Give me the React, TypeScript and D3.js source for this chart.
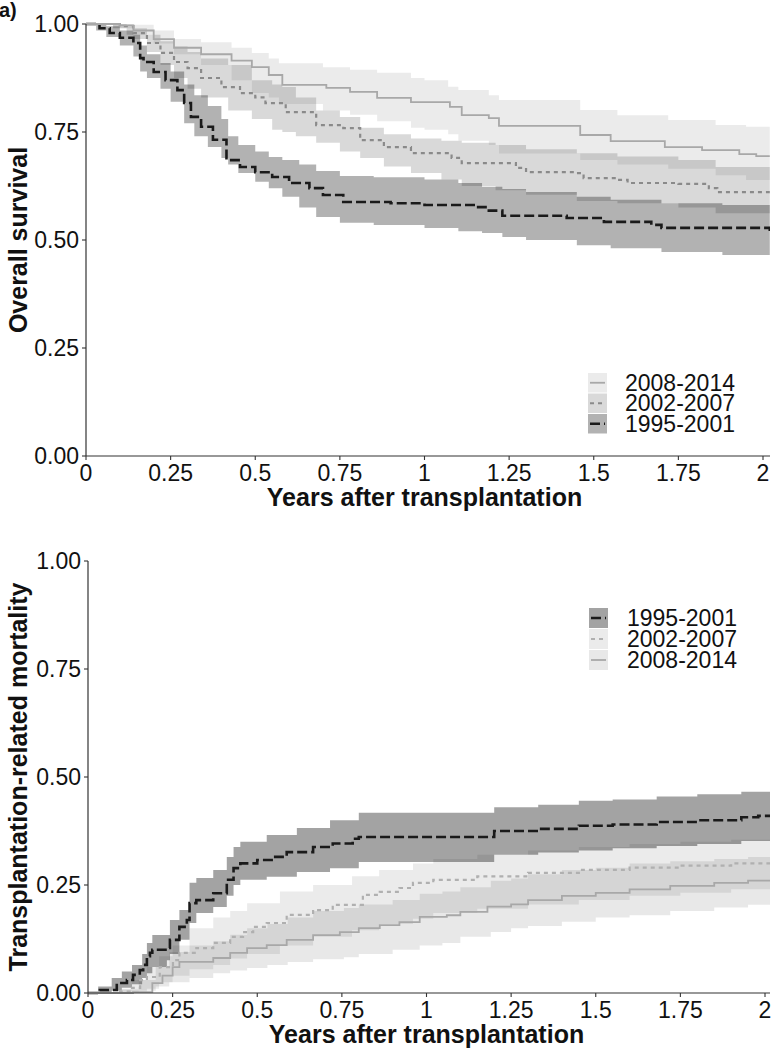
import React from "react";
import * as d3 from "d3";

type P2 = [number, number];
type P3 = [number, number, number];

// ---------- Panel a: overall survival ----------
const osEst1995: P2[] = [[0,1],[0.04,0.99],[0.07,0.979],[0.10,0.968],[0.14,0.956],[0.16,0.921],[0.17,0.912],[0.20,0.889],[0.235,0.87],[0.27,0.847],[0.29,0.817],[0.31,0.785],[0.34,0.762],[0.375,0.732],[0.415,0.685],[0.455,0.669],[0.50,0.657],[0.55,0.646],[0.60,0.632],[0.66,0.62],[0.70,0.604],[0.76,0.588],[0.90,0.585],[1.00,0.581],[1.15,0.576],[1.19,0.568],[1.23,0.556],[1.42,0.551],[1.53,0.542],[1.67,0.535],[1.70,0.528],[2.02,0.521]];
const osBand1995: P3[] = [[0,1,1],[0.03,0.985,1],[0.06,0.97,0.995],[0.10,0.95,0.985],[0.14,0.925,0.975],[0.16,0.89,0.95],[0.18,0.875,0.93],[0.22,0.85,0.91],[0.25,0.82,0.89],[0.29,0.77,0.86],[0.32,0.74,0.835],[0.36,0.715,0.81],[0.40,0.69,0.78],[0.42,0.675,0.74],[0.45,0.655,0.72],[0.50,0.635,0.705],[0.54,0.62,0.692],[0.58,0.60,0.685],[0.63,0.575,0.675],[0.68,0.553,0.66],[0.75,0.54,0.648],[0.85,0.535,0.645],[1.00,0.528,0.64],[1.10,0.52,0.632],[1.17,0.516,0.623],[1.23,0.507,0.618],[1.30,0.50,0.611],[1.45,0.488,0.60],[1.55,0.481,0.593],[1.70,0.472,0.585],[1.88,0.465,0.581],[2.02,0.465,0.581]];
const osEst2002: P2[] = [[0,1],[0.10,0.995],[0.14,0.979],[0.18,0.956],[0.22,0.933],[0.26,0.912],[0.30,0.898],[0.34,0.875],[0.40,0.854],[0.455,0.84],[0.50,0.83],[0.53,0.817],[0.59,0.796],[0.68,0.766],[0.76,0.759],[0.81,0.731],[0.88,0.715],[0.96,0.701],[1.08,0.69],[1.11,0.678],[1.27,0.667],[1.30,0.657],[1.45,0.655],[1.47,0.643],[1.57,0.639],[1.60,0.632],[1.75,0.63],[1.84,0.62],[1.865,0.611],[2.02,0.611]];
const osBand2002: P3[] = [[0,1,1],[0.08,0.99,1],[0.12,0.975,0.995],[0.14,0.965,0.99],[0.18,0.935,0.975],[0.22,0.905,0.96],[0.26,0.875,0.948],[0.30,0.85,0.935],[0.34,0.83,0.92],[0.42,0.80,0.905],[0.49,0.78,0.87],[0.55,0.755,0.86],[0.58,0.75,0.854],[0.62,0.74,0.83],[0.68,0.725,0.80],[0.75,0.705,0.785],[0.81,0.69,0.76],[0.88,0.67,0.745],[0.96,0.655,0.735],[1.05,0.64,0.73],[1.11,0.625,0.725],[1.21,0.615,0.72],[1.30,0.605,0.71],[1.45,0.59,0.701],[1.57,0.585,0.693],[1.75,0.575,0.685],[1.86,0.562,0.669],[2.02,0.562,0.669]];
const osEst2008: P2[] = [[0,1],[0.10,0.997],[0.14,0.985],[0.20,0.965],[0.26,0.945],[0.34,0.93],[0.43,0.915],[0.49,0.90],[0.54,0.882],[0.58,0.859],[0.71,0.852],[0.78,0.843],[0.86,0.829],[0.96,0.819],[1.075,0.808],[1.11,0.789],[1.19,0.782],[1.22,0.764],[1.46,0.743],[1.55,0.729],[1.71,0.715],[1.82,0.708],[1.93,0.699],[1.98,0.694],[2.02,0.694]];
const osBand2008: P3[] = [[0,1,1],[0.08,0.99,1],[0.14,0.975,0.998],[0.20,0.955,0.985],[0.26,0.93,0.965],[0.34,0.905,0.958],[0.43,0.87,0.945],[0.49,0.84,0.933],[0.54,0.83,0.92],[0.57,0.815,0.909],[0.70,0.80,0.90],[0.78,0.79,0.894],[0.86,0.775,0.887],[0.96,0.76,0.875],[1.0,0.755,0.87],[1.07,0.745,0.855],[1.1,0.73,0.847],[1.19,0.72,0.835],[1.22,0.70,0.824],[1.46,0.685,0.801],[1.57,0.675,0.789],[1.72,0.665,0.778],[1.86,0.65,0.766],[1.95,0.639,0.762],[2.02,0.639,0.762]];

// ---------- Panel b: transplantation-related mortality ----------
const trmEst1995: P2[] = [[0,0],[0.035,0.007],[0.085,0.023],[0.115,0.03],[0.133,0.042],[0.153,0.053],[0.163,0.065],[0.174,0.085],[0.183,0.093],[0.19,0.10],[0.233,0.104],[0.242,0.123],[0.27,0.153],[0.292,0.169],[0.30,0.208],[0.32,0.215],[0.37,0.231],[0.41,0.262],[0.43,0.289],[0.45,0.30],[0.50,0.308],[0.547,0.315],[0.587,0.326],[0.665,0.338],[0.723,0.346],[0.782,0.357],[0.80,0.361],[1.2,0.375],[1.33,0.38],[1.45,0.387],[1.55,0.39],[1.68,0.396],[1.8,0.40],[1.93,0.407],[1.98,0.41],[2.02,0.41]];
const trmBand1995: P3[] = [[0,0,0],[0.03,0,0.015],[0.07,0.005,0.035],[0.10,0.012,0.05],[0.13,0.02,0.065],[0.16,0.035,0.09],[0.174,0.046,0.116],[0.19,0.06,0.134],[0.233,0.076,0.134],[0.242,0.09,0.169],[0.27,0.123,0.192],[0.30,0.162,0.255],[0.32,0.185,0.266],[0.37,0.199,0.285],[0.41,0.225,0.315],[0.43,0.25,0.338],[0.45,0.262,0.35],[0.528,0.269,0.366],[0.617,0.28,0.382],[0.715,0.289,0.40],[0.80,0.303,0.417],[1.2,0.32,0.43],[1.33,0.325,0.436],[1.45,0.33,0.445],[1.55,0.335,0.448],[1.68,0.34,0.455],[1.8,0.345,0.46],[1.93,0.352,0.466],[2.02,0.352,0.466]];
const trmEst2002: P2[] = [[0,0],[0.085,0.003],[0.13,0.012],[0.154,0.03],[0.174,0.037],[0.212,0.06],[0.251,0.076],[0.27,0.093],[0.32,0.104],[0.37,0.116],[0.42,0.13],[0.458,0.141],[0.488,0.153],[0.528,0.162],[0.587,0.181],[0.665,0.192],[0.723,0.204],[0.812,0.227],[0.862,0.234],[0.92,0.243],[0.96,0.255],[1.02,0.262],[1.15,0.27],[1.3,0.278],[1.45,0.285],[1.6,0.29],[1.75,0.295],[1.9,0.30],[2.02,0.30]];
const trmBand2002: P3[] = [[0,0,0],[0.1,0,0.01],[0.13,0.002,0.03],[0.174,0.01,0.06],[0.21,0.025,0.085],[0.25,0.04,0.11],[0.3,0.055,0.15],[0.37,0.065,0.175],[0.42,0.08,0.19],[0.47,0.09,0.208],[0.567,0.11,0.235],[0.665,0.13,0.25],[0.78,0.145,0.27],[0.86,0.16,0.285],[0.96,0.172,0.30],[1.02,0.185,0.31],[1.15,0.195,0.32],[1.3,0.205,0.33],[1.45,0.215,0.338],[1.6,0.225,0.345],[1.75,0.232,0.35],[1.9,0.24,0.355],[2.02,0.24,0.355]];
const trmEst2008: P2[] = [[0,0],[0.133,0.002],[0.19,0.023],[0.22,0.04],[0.25,0.06],[0.27,0.072],[0.37,0.081],[0.42,0.093],[0.47,0.104],[0.528,0.111],[0.587,0.123],[0.665,0.134],[0.744,0.141],[0.80,0.150],[0.862,0.157],[0.92,0.164],[0.98,0.176],[1.06,0.18],[1.10,0.188],[1.18,0.20],[1.25,0.205],[1.3,0.215],[1.4,0.225],[1.5,0.232],[1.6,0.24],[1.72,0.248],[1.85,0.255],[1.95,0.26],[2.02,0.26]];
const trmBand2008: P3[] = [[0,0,0],[0.1,0,0.008],[0.15,0.005,0.03],[0.2,0.015,0.06],[0.24,0.025,0.095],[0.3,0.035,0.11],[0.37,0.046,0.12],[0.42,0.052,0.135],[0.47,0.058,0.15],[0.53,0.065,0.16],[0.59,0.072,0.175],[0.665,0.078,0.19],[0.756,0.083,0.197],[0.80,0.09,0.205],[0.9,0.1,0.215],[0.98,0.11,0.23],[1.047,0.116,0.235],[1.10,0.13,0.245],[1.19,0.141,0.26],[1.25,0.15,0.265],[1.3,0.155,0.275],[1.4,0.165,0.285],[1.5,0.175,0.29],[1.6,0.18,0.3],[1.72,0.19,0.305],[1.85,0.198,0.31],[1.95,0.204,0.315],[2.02,0.204,0.315]];

const xTickValues = [0, 0.25, 0.5, 0.75, 1, 1.25, 1.5, 1.75, 2];
const xTickLabels = ["0", "0.25", "0.5", "0.75", "1", "1.25", "1.5", "1.75", "2"];
const yTickValues = [0, 0.25, 0.5, 0.75, 1];
const yTickLabels = ["0.00", "0.25", "0.50", "0.75", "1.00"];
const periods = ["1995-2001", "2002-2007", "2008-2014"];

const FONT = "'Liberation Sans', Arial, Helvetica, sans-serif";

type SeriesStyle = { fillOpacity: number; stroke: string; dash: string; width: number };

type PanelProps = {
  id: string;
  xRange: [number, number];
  yRange: [number, number];
  yTitle: string;
  est: P2[][];
  bands: P3[][];
  styles: SeriesStyle[];
  legendOrder: number[];
  legendX: number;
  legendTextX: number;
  legendY: number;
  legendStep: number;
};

function Panel(p: PanelProps) {
  const x = d3.scaleLinear().domain([0, 2]).range(p.xRange);
  const y = d3.scaleLinear().domain([0, 1]).range(p.yRange);
  const area = d3
    .area<P3>()
    .x((d) => x(d[0]))
    .y0((d) => y(d[1]))
    .y1((d) => y(d[2]))
    .curve(d3.curveStepAfter);
  const line = d3
    .line<P2>()
    .x((d) => x(d[0]))
    .y((d) => y(d[1]))
    .curve(d3.curveStepAfter);
  const x0 = p.xRange[0];
  const xEnd = 770;
  const yBottom = p.yRange[0];
  const yTop = p.yRange[1];
  const axisColor = "#333";
  return (
    <g>
      <defs>
        <clipPath id={p.id}>
          <rect x={x0} y={yTop - 3} width={xEnd - x0} height={yBottom - yTop + 6} />
        </clipPath>
      </defs>
      <g clipPath={`url(#${p.id})`}>
        {p.bands.map((b, i) => (
          <path key={"b" + i} d={area(b) || ""} fill="#000" fillOpacity={p.styles[i].fillOpacity} stroke="none" />
        ))}
        {p.est.map((e, i) => (
          <path
            key={"l" + i}
            d={line(e) || ""}
            fill="none"
            stroke={p.styles[i].stroke}
            strokeWidth={p.styles[i].width}
            strokeDasharray={p.styles[i].dash}
          />
        ))}
      </g>
      {/* axes */}
      <line x1={x0} x2={x0} y1={yTop} y2={yBottom} stroke={axisColor} strokeWidth={1.2} />
      <line x1={x0} x2={xEnd} y1={yBottom} y2={yBottom} stroke={axisColor} strokeWidth={1.2} />
      {yTickValues.map((v, i) => (
        <g key={"yt" + i}>
          <line x1={x0 - 4} x2={x0} y1={y(v)} y2={y(v)} stroke={axisColor} strokeWidth={1.1} />
          <text x={x0 - 7} y={y(v) + 8} textAnchor="end" fontSize={23} fontFamily={FONT} fill="#111">
            {yTickLabels[i]}
          </text>
        </g>
      ))}
      {xTickValues.map((v, i) => (
        <g key={"xt" + i}>
          <line x1={x(v)} x2={x(v)} y1={yBottom} y2={yBottom + 4} stroke={axisColor} strokeWidth={1.1} />
          <text x={x(v)} y={yBottom + 25} textAnchor="middle" fontSize={23} fontFamily={FONT} fill="#111">
            {xTickLabels[i]}
          </text>
        </g>
      ))}
      <text
        x={(x(0) + x(2)) / 2}
        y={yBottom + 50}
        textAnchor="middle"
        fontSize={25}
        fontWeight="bold"
        fontFamily={FONT}
        fill="#111"
      >
        Years after transplantation
      </text>
      <text
        transform={`translate(27, ${(yTop + yBottom) / 2}) rotate(-90)`}
        textAnchor="middle"
        fontSize={25}
        fontWeight="bold"
        fontFamily={FONT}
        fill="#111"
      >
        {p.yTitle}
      </text>
      {/* legend */}
      {p.legendOrder.map((si, k) => {
        const ky = p.legendY + k * p.legendStep;
        const st = p.styles[si];
        return (
          <g key={"lg" + k}>
            <rect x={p.legendX} y={ky} width={19} height={p.legendStep - 1} fill="#fff" />
            <rect x={p.legendX} y={ky} width={19} height={p.legendStep - 1} fill="#000" fillOpacity={st.fillOpacity} />
            <line
              x1={p.legendX + 2}
              x2={p.legendX + 17}
              y1={ky + (p.legendStep - 1) / 2}
              y2={ky + (p.legendStep - 1) / 2}
              stroke={st.stroke}
              strokeWidth={st.width}
              strokeDasharray={st.dash}
            />
            <text
              x={p.legendTextX}
              y={ky + (p.legendStep - 1) / 2 + 8}
              fontSize={23}
              fontFamily={FONT}
              fill="#111"
            >
              {periods[si]}
            </text>
          </g>
        );
      })}
    </g>
  );
}

const topStyles: SeriesStyle[] = [
  { fillOpacity: 0.3, stroke: "#1a1a1a", dash: "10,4", width: 2.6 },
  { fillOpacity: 0.15, stroke: "#8a8a8a", dash: "4,4", width: 2.2 },
  { fillOpacity: 0.08, stroke: "#a8a8a8", dash: "", width: 1.8 },
];
const botStyles: SeriesStyle[] = [
  { fillOpacity: 0.36, stroke: "#1a1a1a", dash: "10,4", width: 2.6 },
  { fillOpacity: 0.08, stroke: "#b0b0b0", dash: "4,4", width: 2.2 },
  { fillOpacity: 0.09, stroke: "#a8a8a8", dash: "", width: 1.8 },
];

export default function App() {
  return (
    <svg
      width={771}
      height={1050}
      viewBox="0 0 771 1050"
      style={{ position: "absolute", left: 0, top: 0, background: "#fff" }}
    >
      <rect x={0} y={0} width={771} height={1050} fill="#fff" />
      <text x={-1} y={17} fontSize={20} fontWeight="bold" fontFamily={FONT} fill="#111">
        a)
      </text>
      <Panel
        id="clipTop"
        xRange={[86, 763]}
        yRange={[456, 24]}
        yTitle="Overall survival"
        est={[osEst1995, osEst2002, osEst2008]}
        bands={[osBand1995, osBand2002, osBand2008]}
        styles={topStyles}
        legendOrder={[2, 1, 0]}
        legendX={588}
        legendTextX={625}
        legendY={373}
        legendStep={20.5}
      />
      <Panel
        id="clipBot"
        xRange={[88, 765]}
        yRange={[993, 561]}
        yTitle="Transplantation-related mortality"
        est={[trmEst1995, trmEst2002, trmEst2008]}
        bands={[trmBand1995, trmBand2002, trmBand2008]}
        styles={botStyles}
        legendOrder={[0, 1, 2]}
        legendX={589}
        legendTextX={627}
        legendY={608}
        legendStep={21}
      />
    </svg>
  );
}
